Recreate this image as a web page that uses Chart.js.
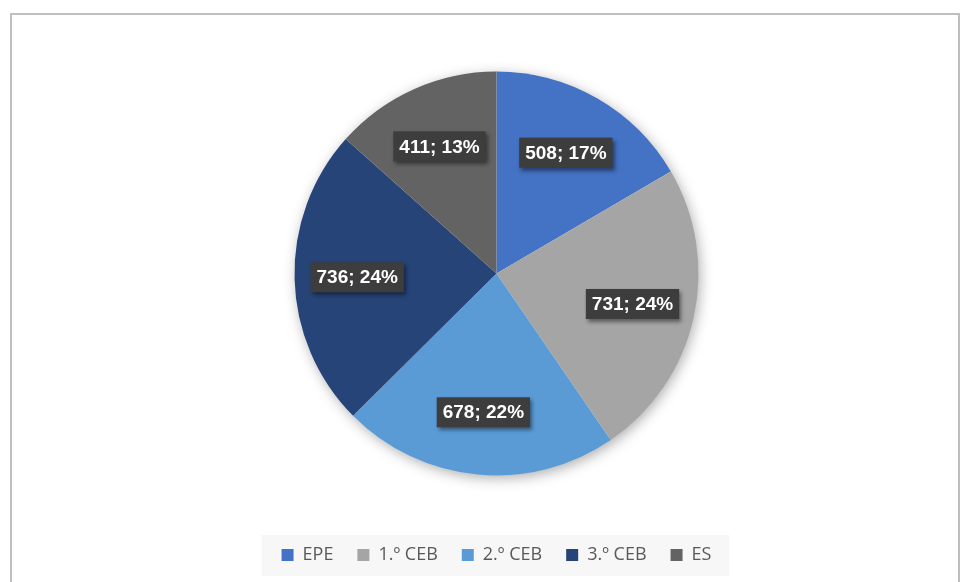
<!DOCTYPE html>
<html>
<head>
<meta charset="utf-8">
<script src="https://cdn.jsdelivr.net/npm/chart.js@4"></script>
<style>
  html, body { margin: 0; padding: 0; background: #fff; }
  #wrap { position: relative; width: 963px; height: 582px; }
  #frame { position: absolute; left: 10px; top: 13px; width: 950px; height: 600px;
           border: 2px solid #bfbfbf; box-sizing: border-box; }
  canvas { position: absolute; left: 0; top: 0; }
</style>
</head>
<body>
<div id="wrap">
  <div id="frame"></div>
  <canvas id="pieChart" width="963" height="582"></canvas>
</div>
<script>
const categories = ['EPE', '1.º CEB', '2.º CEB', '3.º CEB', 'ES'];
const values = [508, 731, 678, 736, 411];
const colors = ['#4472C4', '#A5A5A5', '#5B9BD5', '#264478', '#636363'];

const total = values.reduce((a, b) => a + b, 0);

// sombra suave por baixo da tarte
const pieShadow = {
    id: 'pieShadow',
    beforeDatasetsDraw(chart) {
        const arc = chart.getDatasetMeta(0).data[0];
        if (!arc) return;
        const { x, y, outerRadius } = arc.getProps(['x', 'y', 'outerRadius'], true);
        const ctx = chart.ctx;
        ctx.save();
        ctx.shadowColor = 'rgba(0,0,0,0.35)';
        ctx.shadowBlur = 14;
        ctx.shadowOffsetX = 2;
        ctx.shadowOffsetY = 3;
        ctx.fillStyle = '#ffffff';
        ctx.beginPath();
        ctx.arc(x, y, outerRadius - 1, 0, Math.PI * 2);
        ctx.fill();
        ctx.restore();
    }
};

// etiquetas "valor; %" em caixa escura
const sliceLabels = {
    id: 'sliceLabels',
    afterDatasetsDraw(chart) {
        const ctx = chart.ctx;
        const meta = chart.getDatasetMeta(0);
        ctx.save();
        ctx.font = 'bold 19px "Liberation Sans", Arial, sans-serif';
        ctx.textAlign = 'center';
        ctx.textBaseline = 'middle';
        meta.data.forEach((arc, i) => {
            const p = arc.getProps(['x', 'y', 'startAngle', 'endAngle', 'outerRadius'], true);
            const mid = (p.startAngle + p.endAngle) / 2;
            const r = p.outerRadius * 0.69;
            const cx = p.x + Math.cos(mid) * r;
            const cy = p.y + Math.sin(mid) * r;
            const txt = values[i] + '; ' + Math.round(values[i] / total * 100) + '%';
            const w = ctx.measureText(txt).width + 12;
            const h = 30;
            ctx.save();
            ctx.shadowColor = 'rgba(0,0,0,0.45)';
            ctx.shadowBlur = 4;
            ctx.shadowOffsetX = 2;
            ctx.shadowOffsetY = 3;
            ctx.fillStyle = '#3d3d3d';
            ctx.fillRect(cx - w / 2, cy - h / 2, w, h);
            ctx.restore();
            ctx.fillStyle = '#ffffff';
            ctx.fillText(txt, cx, cy + 1);
        });
        ctx.restore();
    }
};

// fundo cinzento claro da legenda
const legendBg = {
    id: 'legendBg',
    beforeDraw(chart) {
        const boxes = chart.legend && chart.legend.legendHitBoxes;
        if (!boxes || !boxes.length) return;
        const left = Math.min(...boxes.map(b => b.left)) - 20;
        const right = Math.max(...boxes.map(b => b.left + b.width)) + 18;
        const top = Math.min(...boxes.map(b => b.top)) - 11;
        const bottom = Math.max(...boxes.map(b => b.top + b.height)) + 12;
        const ctx = chart.ctx;
        ctx.save();
        ctx.fillStyle = '#f7f7f7';
        ctx.fillRect(left, top, right - left, bottom - top);
        ctx.restore();
    }
};

new Chart(document.getElementById('pieChart'), {
    type: 'pie',
    data: {
        labels: categories,
        datasets: [{
            data: values,
            backgroundColor: colors,
            borderWidth: 0,
            radius: 202
        }]
    },
    options: {
        responsive: false,
        animation: false,
        layout: { padding: { top: 25, bottom: 8, left: 30, right: 0 } },
        plugins: {
            tooltip: { enabled: false },
            legend: {
                position: 'bottom',
                labels: {
                    boxWidth: 12,
                    boxHeight: 12,
                    padding: 24,
                    color: '#595959',
                    font: { family: '"Open Sans", sans-serif', size: 18 }
                }
            }
        }
    },
    plugins: [pieShadow, sliceLabels, legendBg]
});
</script>
</body>
</html>
